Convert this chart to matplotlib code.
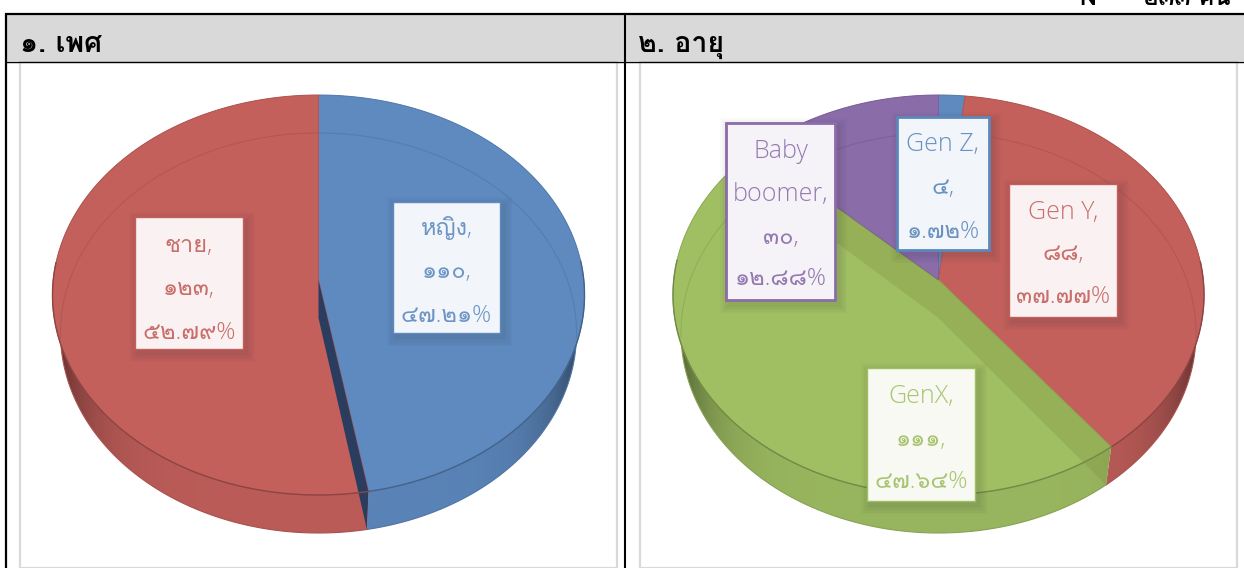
import numpy as np
import matplotlib
matplotlib.use('Agg')
import matplotlib.pyplot as plt
from matplotlib import font_manager as fm
from matplotlib.ft2font import FT2Font
from matplotlib.patches import Rectangle, Polygon

gender_names = ['หญิง', 'ชาย']
gender_values = [110, 123]
gender_counts = ['๑๑๐', '๑๒๓']
gender_pcts = ['๔๗.๒๑%', '๕๒.๗๙%']

age_names = ['Gen Z', 'Gen Y', 'GenX', 'Baby', 'boomer']
age_values = [4, 88, 111, 30]
age_counts = ['๔', '๘๘', '๑๑๑', '๓๐']
age_pcts = ['๑.๗๒%', '๓๗.๗๗%', '๔๗.๖๔%', '๑๒.๘๘%']

header_left = '๑. เพศ'
header_right = '๒. อายุ'
top_note = 'N   = ๒๓๓ คน'

RED = '#c4605c'
BLUE = '#5e8ac0'
GREEN = '#a0bf63'
PURPLE = '#8a6ca9'

# look for a font that has Thai in it
thai_family = None
for f in fm.fontManager.ttflist:
    try:
        if 0x0E01 in FT2Font(f.fname).get_charmap():
            thai_family = f.name
            break
    except Exception:
        pass
label_fonts = ['Open Sans'] + ([thai_family] if thai_family else []) + ['DejaVu Sans']
head_fonts = ([thai_family] if thai_family else []) + ['Noto Sans', 'DejaVu Sans']

fig = plt.figure(figsize=(12.44, 5.68), dpi=100)
ax = fig.add_axes([0, 0, 1, 1])
ax.axis('off')

P = -0.075
YC = 295
B = 200
DEPTH = 38


def project(cx, a, theta, dy=0):
    # theta clockwise from 12 o'clock, small perspective on the disc
    u = np.sin(theta)
    v = -np.cos(theta)
    w = 1 + P * v
    return cx + a * u * np.sqrt(1 - P**2) / w, YC + dy + B * (v + P) / w


def shade(c, k):
    rgb = np.array(matplotlib.colors.to_rgb(c))
    return tuple(np.clip(rgb * k, 0, 1))


def draw_pie(cx, a, values, colors):
    a2 = a - 8
    edges = 2 * np.pi * np.cumsum([0] + list(values)) / sum(values)
    # outer wall, image gradient clipped to the wall shape
    u = np.linspace(-1, 1, 600)
    k = 0.95 - 0.5 * np.abs(u) ** 7
    for i, c in enumerate(colors):
        th = np.linspace(edges[i], edges[i + 1], 200)
        xs, ys = project(cx, a, th)
        xb, yb = project(cx, a2, th, dy=DEPTH)
        pts = np.c_[np.r_[xs, xb[::-1]], np.r_[ys, yb[::-1]]]
        grad = np.array([shade(c, q) for q in k])[None, :, :]
        im = ax.imshow(grad, extent=(cx - a, cx + a, YC + B + DEPTH + 5, YC - B - 5),
                       aspect='auto', zorder=2)
        im.set_clip_path(Polygon(pts, transform=ax.transData))
        keep = np.cos(th) < 0.1
        ax.plot(xb[keep], yb[keep], color=shade(c, 0.85), lw=0.8, zorder=2)
    # top faces
    for i, c in enumerate(colors):
        th = np.linspace(edges[i], edges[i + 1], 200)
        xs, ys = project(cx, a, th)
        ax.fill(np.r_[cx, xs], np.r_[YC + B * P, ys], fc=c, ec=shade(c, 0.9), lw=0.7, zorder=3)
    # rim line and the far edge of the base showing through
    for i, c in enumerate(colors):
        th = np.linspace(edges[i], edges[i + 1], 200)
        xs, ys = project(cx, a, th)
        keep = np.cos(th) < 0.1
        ax.plot(xs[keep], ys[keep], color=shade(c, 0.72), lw=1.0, zorder=5)
        xs, ys = project(cx, a2, th, dy=DEPTH)
        keep = np.cos(th) > -0.1
        ax.plot(xs[keep], ys[keep], color=shade(c, 0.82), lw=0.8, alpha=0.5, zorder=5)
    return edges


def inner_wall(cx, a, t, fc, alpha):
    x0, y0 = project(cx, a, t)
    x1, y1 = project(cx, a - 8, t, dy=DEPTH)
    ax.add_patch(Polygon([(cx, YC + B * P), (x0, y0), (x1, y1), (cx, YC + B * P + DEPTH)],
                         fc=fc, ec='none', alpha=alpha, zorder=4))


def label_box(x0, x1, y0, y1, color, lines, ys, border=1.0):
    for grow in np.arange(9, 0, -1.5):
        ax.add_patch(Rectangle((x0 - grow + 3, y0 - grow + 4), x1 - x0 + 2 * grow, y1 - y0 + 2 * grow,
                               fc='#303030', ec='none', alpha=0.025, zorder=6))
    ax.add_patch(Rectangle((x0, y0), x1 - x0, y1 - y0, fc='white', ec='none', zorder=7))
    ax.add_patch(Rectangle((x0, y0), x1 - x0, y1 - y0, fc=color, ec='none', alpha=0.08, zorder=7))
    ax.add_patch(Rectangle((x0, y0), x1 - x0, y1 - y0, fc='none', ec=color, lw=border, zorder=7))
    for s, y in zip(lines, ys):
        size = 18 if s[0].isascii() else 17
        ax.text((x0 + x1) / 2, y, s, color=color, alpha=0.9, fontsize=size, ha='center', va='center',
                family=label_fonts, fontweight='light', zorder=8)


# table frame
ax.add_patch(Rectangle((6, 14), 1244, 47, fc='#d9d9d9', ec='none', zorder=0))
ax.add_patch(Rectangle((20, 62), 597, 506, fc='white', ec='#d9d9d9', lw=1.6, zorder=1))
ax.add_patch(Rectangle((640, 62), 597, 506, fc='white', ec='#d9d9d9', lw=1.6, zorder=1))
ax.plot([5, 1244], [13.5, 13.5], color='black', lw=1.6, zorder=9, solid_capstyle='butt')
ax.plot([5, 1244], [61.5, 61.5], color='black', lw=1.0, zorder=9, solid_capstyle='butt')
ax.plot([6, 6], [13, 568], color='black', lw=1.6, zorder=9, solid_capstyle='butt')
ax.plot([625, 625], [13, 568], color='black', lw=1.5, zorder=9, solid_capstyle='butt')

ax.text(20, 52, header_left, fontsize=20.5, fontweight='bold', family=head_fonts, va='baseline', zorder=10)
ax.text(638, 52, header_right, fontsize=20.5, fontweight='bold', family=head_fonts, va='baseline', zorder=10)
ax.text(1230, 5, top_note, fontsize=17, fontweight='bold', family=head_fonts, ha='right', va='baseline', zorder=10)

# left pie
draw_pie(318.5, 266, gender_values, [BLUE, RED])
t = 2 * np.pi * gender_values[0] / sum(gender_values)
inner_wall(318.5, 266, t, '#2b3d5e', 1.0)
label_box(393, 500, 202, 333, BLUE, [gender_names[0] + ',', gender_counts[0] + ',', gender_pcts[0]],
          [229, 272, 316])
label_box(135, 243, 217, 349, RED, [gender_names[1] + ',', gender_counts[1] + ',', gender_pcts[1]],
          [246, 289, 333])

# right pie
age_edges = draw_pie(938.5, 265.5, age_values, [BLUE, RED, GREEN, PURPLE])
inner_wall(938.5, 265.5, age_edges[2], '#7c8f3c', 0.3)
inner_wall(938.5, 265.5, age_edges[3], '#7c8f3c', 0.3)
label_box(726, 835, 123, 300, PURPLE,
          [age_names[3], age_names[4] + ',', age_counts[3] + ',', age_pcts[3]], [152, 195, 238, 279], border=2.0)
label_box(897, 989, 117, 250, '#5b87bb',
          [age_names[0] + ',', age_counts[0] + ',', age_pcts[0]], [145, 188, 232], border=2.0)
label_box(1009, 1117, 184, 317, RED,
          [age_names[1] + ',', age_counts[1] + ',', age_pcts[1]], [212, 254, 297])
label_box(867, 975, 368, 501, GREEN,
          [age_names[2] + ',', age_counts[2] + ',', age_pcts[2]], [397, 440, 482])

ax.set_xlim(0, 1244)
ax.set_ylim(568, 0)
fig.savefig('out.png', dpi=100)
